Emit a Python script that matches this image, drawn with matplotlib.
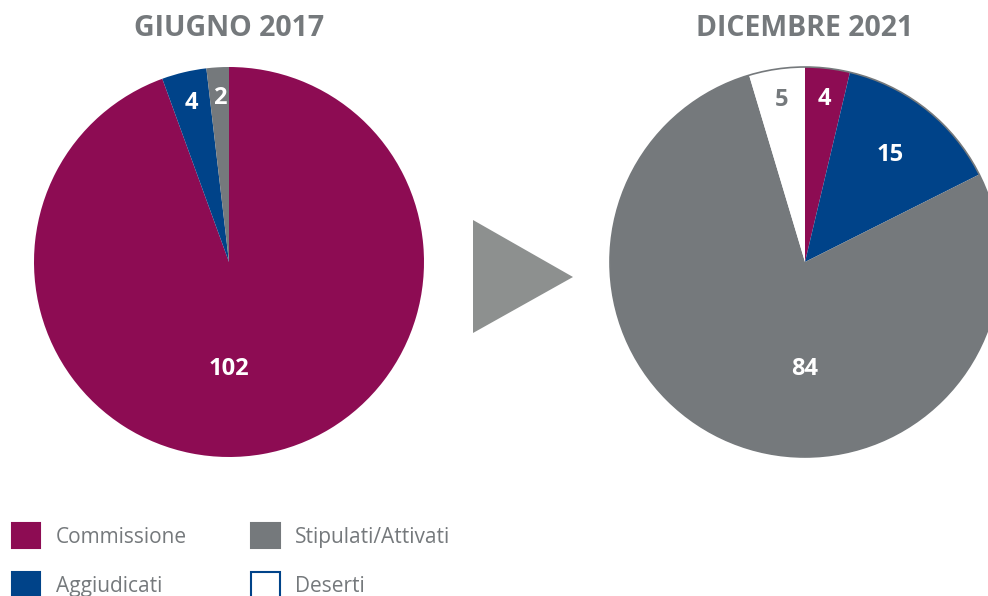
#!/usr/bin/env python3
# Two pies: stato delle gare, giugno 2017 vs dicembre 2021.

import matplotlib.pyplot as plt
from matplotlib.patches import Patch, Circle, Polygon
import numpy as np

plt.rcParams["font.family"] = ["Open Sans", "DejaVu Sans"]

categories = ["Commissione", "Aggiudicati", "Stipulati/Attivati", "Deserti"]
titles = ["GIUGNO 2017", "DICEMBRE 2021"]
values_2017 = [102, 4, 2, 0]
values_2021 = [4, 15, 84, 5]

colors = ["#8D0C53", "#004389", "#75797C", "#FFFFFF"]
grey_txt = "#75797C"
label_colors = ["white", "white", "white", grey_txt]

W, H = 988, 596
fig = plt.figure(figsize=(W / 100, H / 100), dpi=100)
ax = fig.add_axes([0, 0, 1, 1])

R = 195
centers = [(229, H - 262), (805, H - 262)]


def draw_pie(vals, center):
    keep = [i for i, v in enumerate(vals) if v > 0]
    v = [vals[i] for i in keep]
    wedges, _ = ax.pie(
        v,
        colors=[colors[i] for i in keep],
        startangle=90,
        counterclock=False,
        radius=R,
        center=center,
        wedgeprops=dict(linewidth=0),
    )
    total = sum(v)
    for w, val, i in zip(wedges, v, keep):
        share = val / total
        if share > 0.5:
            ang, frac = -90, 0.55
        else:
            ang = (w.theta1 + w.theta2) / 2
            frac = 0.84 if share < 0.08 else 0.7
        a = np.deg2rad(ang)
        ax.text(
            center[0] + np.cos(a) * R * frac,
            center[1] + np.sin(a) * R * frac,
            str(val),
            ha="center",
            va="center",
            fontsize=17,
            fontweight="bold",
            color=label_colors[i],
        )
    return wedges


draw_pie(values_2017, centers[0])
draw_pie(values_2021, centers[1])
ax.add_patch(Circle(centers[1], R, fill=False, ec=grey_txt, lw=1.2))

for t, c in zip(titles, centers):
    ax.text(c[0], H - 28, t, ha="center", va="center", fontsize=20.5,
            fontweight="bold", color=grey_txt)

# arrow between the two pies
mid = (centers[0][0] + centers[1][0]) / 2
ax.add_patch(Polygon([(mid - 44, H - 220), (mid + 56, H - 277), (mid - 44, H - 333)],
                     closed=True, fc="#8D908F", ec="none"))

handles = [Patch(fc=colors[i], ec=colors[i] if i < 3 else "#004389", lw=1.5)
           for i in range(4)]
ax.legend(
    handles,
    categories,
    ncol=2,
    loc="upper left",
    bbox_to_anchor=(12 / W, (H - 523) / H),
    frameon=False,
    fontsize=15,
    labelcolor=grey_txt,
    handlelength=1.35,
    handleheight=1.5,
    handletextpad=0.75,
    labelspacing=1.15,
    columnspacing=3.1,
    borderpad=0,
    borderaxespad=0,
)

ax.set_xlim(0, W)
ax.set_ylim(0, H)
ax.set_aspect("equal")
ax.axis("off")
fig.savefig("out.png", dpi=100)
